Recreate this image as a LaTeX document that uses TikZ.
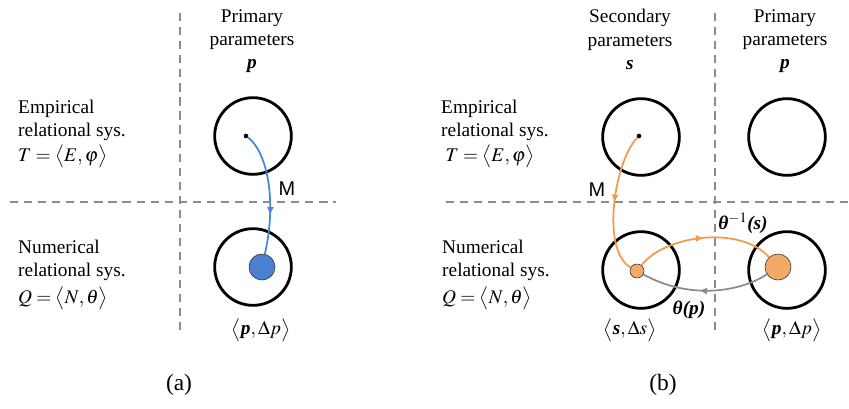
\documentclass[tikz,border=0pt]{standalone}
\usepackage{mathptmx}
\usepackage{fontspec}
\setmainfont{Liberation Serif}
\newfontfamily\labelfont{Liberation Sans}
\usetikzlibrary{arrows.meta,decorations.markings}
\definecolor{mapblue}{HTML}{4A86D8}
\definecolor{ballblue}{HTML}{4A80CF}
\definecolor{maporange}{HTML}{F39B4C}
\definecolor{ballorange}{HTML}{F4A968}
\definecolor{divgray}{HTML}{8C8C8C}
\newcommand{\bit}[1]{\textbf{\textit{#1}}}
\tikzset{
  region/.style   ={draw,circle,line width=2.4pt,minimum size=2.3cm,inner sep=0pt},
  centre/.style   ={fill,circle,minimum size=4pt,inner sep=0pt},
  ball/.style     ={circle,draw=black!80,line width=0.5pt,inner sep=0pt},
  divider/.style  ={divgray,line width=1.6pt,dash pattern=on 7pt off 5pt},
  syslabel/.style ={align=left,anchor=west,inner sep=0pt},
  header/.style   ={align=center,anchor=north,inner sep=0pt},
  caption/.style  ={font=\fontsize{20}{22}\selectfont},
  mlabel/.style   ={font=\fontsize{17}{19}\labelfont},
  maplink/.style  ={line width=1.5pt},
  midarrow/.style ={postaction=decorate,decoration={markings,
                    mark=at position #1 with {\arrow{Latex[length=7pt,width=6pt]}}}}
}

\begin{document}
\begin{tikzpicture}[x=0.03cm,y=-0.03cm, every node/.style={font=\fontsize{16.5}{20}\selectfont}]
    \useasboundingbox (0,0) rectangle (849,408);
    \draw[divider] (180,13) -- (180,330);
    \draw[divider] (10,202) -- (336,202);
    \draw[divider] (715,13) -- (715,330);
    \draw[divider] (446,202) -- (849,202);
    % (a)
    \node[syslabel] (empA) at (18,134) {Empirical\\relational sys.\\[1pt]$T=\bigl\langle E,\varphi\bigr\rangle$};
    \node[syslabel] (numA) at (18,275) {Numerical\\relational sys.\\[3pt]$Q=\bigl\langle N,\theta\bigr\rangle$};
    \node[header]   (primA) at (252,9) {Primary\\parameters\\\bit{p}};
    \node[region]   (topA) at (253,136) {};
    \node[centre]   (dotA) at (246,136) {};
    \node[region]   (botA) at (253,267) {};
    \node[ball,fill=ballblue,minimum size=0.78cm] (ballA) at (262,267) {};
    \node (setA) at (261,330) {$\bigl\langle \mbox{\bit{p}},\Delta p\bigr\rangle$};
    \node[mlabel] (mA) at (287,189) {M};
    \node[caption] (capA) at (179,385) {(a)};
    \draw[mapblue,maplink,midarrow=0.68] (dotA) .. controls (265,150) and (278,195) .. (ballA);
    % (b)
    \node[syslabel] (empB) at (441,134) {Empirical\\relational sys.\\[1pt]$\;T=\bigl\langle E,\varphi\bigr\rangle$};
    \node[syslabel] (numB) at (442,275) {Numerical\\relational sys.\\[3pt]$Q=\bigl\langle N,\theta\bigr\rangle$};
    \node[header]   (secB) at (630,9) {Secondary\\parameters\\\bit{s}};
    \node[header]   (primB) at (785,9) {Primary\\parameters\\\bit{p}};
    \node[region]   (topS) at (641,137) {};
    \node[centre]   (dotB) at (639,136) {};
    \node[region]   (topP) at (787,137) {};
    \node[region]   (botS) at (641,270) {};
    \node[region]   (botP) at (787,270) {};
    \node[ball,fill=ballorange,minimum size=0.42cm] (ballS) at (637,271) {};
    \node[ball,fill=ballorange,minimum size=0.78cm] (ballP) at (778,267) {};
    \node (setS) at (630,330) {$\bigl\langle \mbox{\bit{s}},\Delta s\bigr\rangle$};
    \node (setP) at (792,330) {$\bigl\langle \mbox{\bit{p}},\Delta p\bigr\rangle$};
    \node[mlabel] (mB) at (597,190) {M};
    \node (inv) at (743,223) {\bit{θ}$^{-1}$\bit{(s)}};
    \node (fwd) at (689,310) {\bit{θ(p)}};
    \node[caption] (capB) at (663,385) {(b)};
    \draw[maporange,maplink,midarrow=0.5] (dotB) .. controls (615,160) and (600,250) .. (ballS);
    \draw[maporange,maplink,midarrow=0.5] (ballS) .. controls (665,235) and (740,225) .. (ballP);
    \draw[divgray,maplink,midarrow=0.55] (ballP) .. controls (740,292) and (690,300) .. (ballS);
\end{tikzpicture}
\end{document}
